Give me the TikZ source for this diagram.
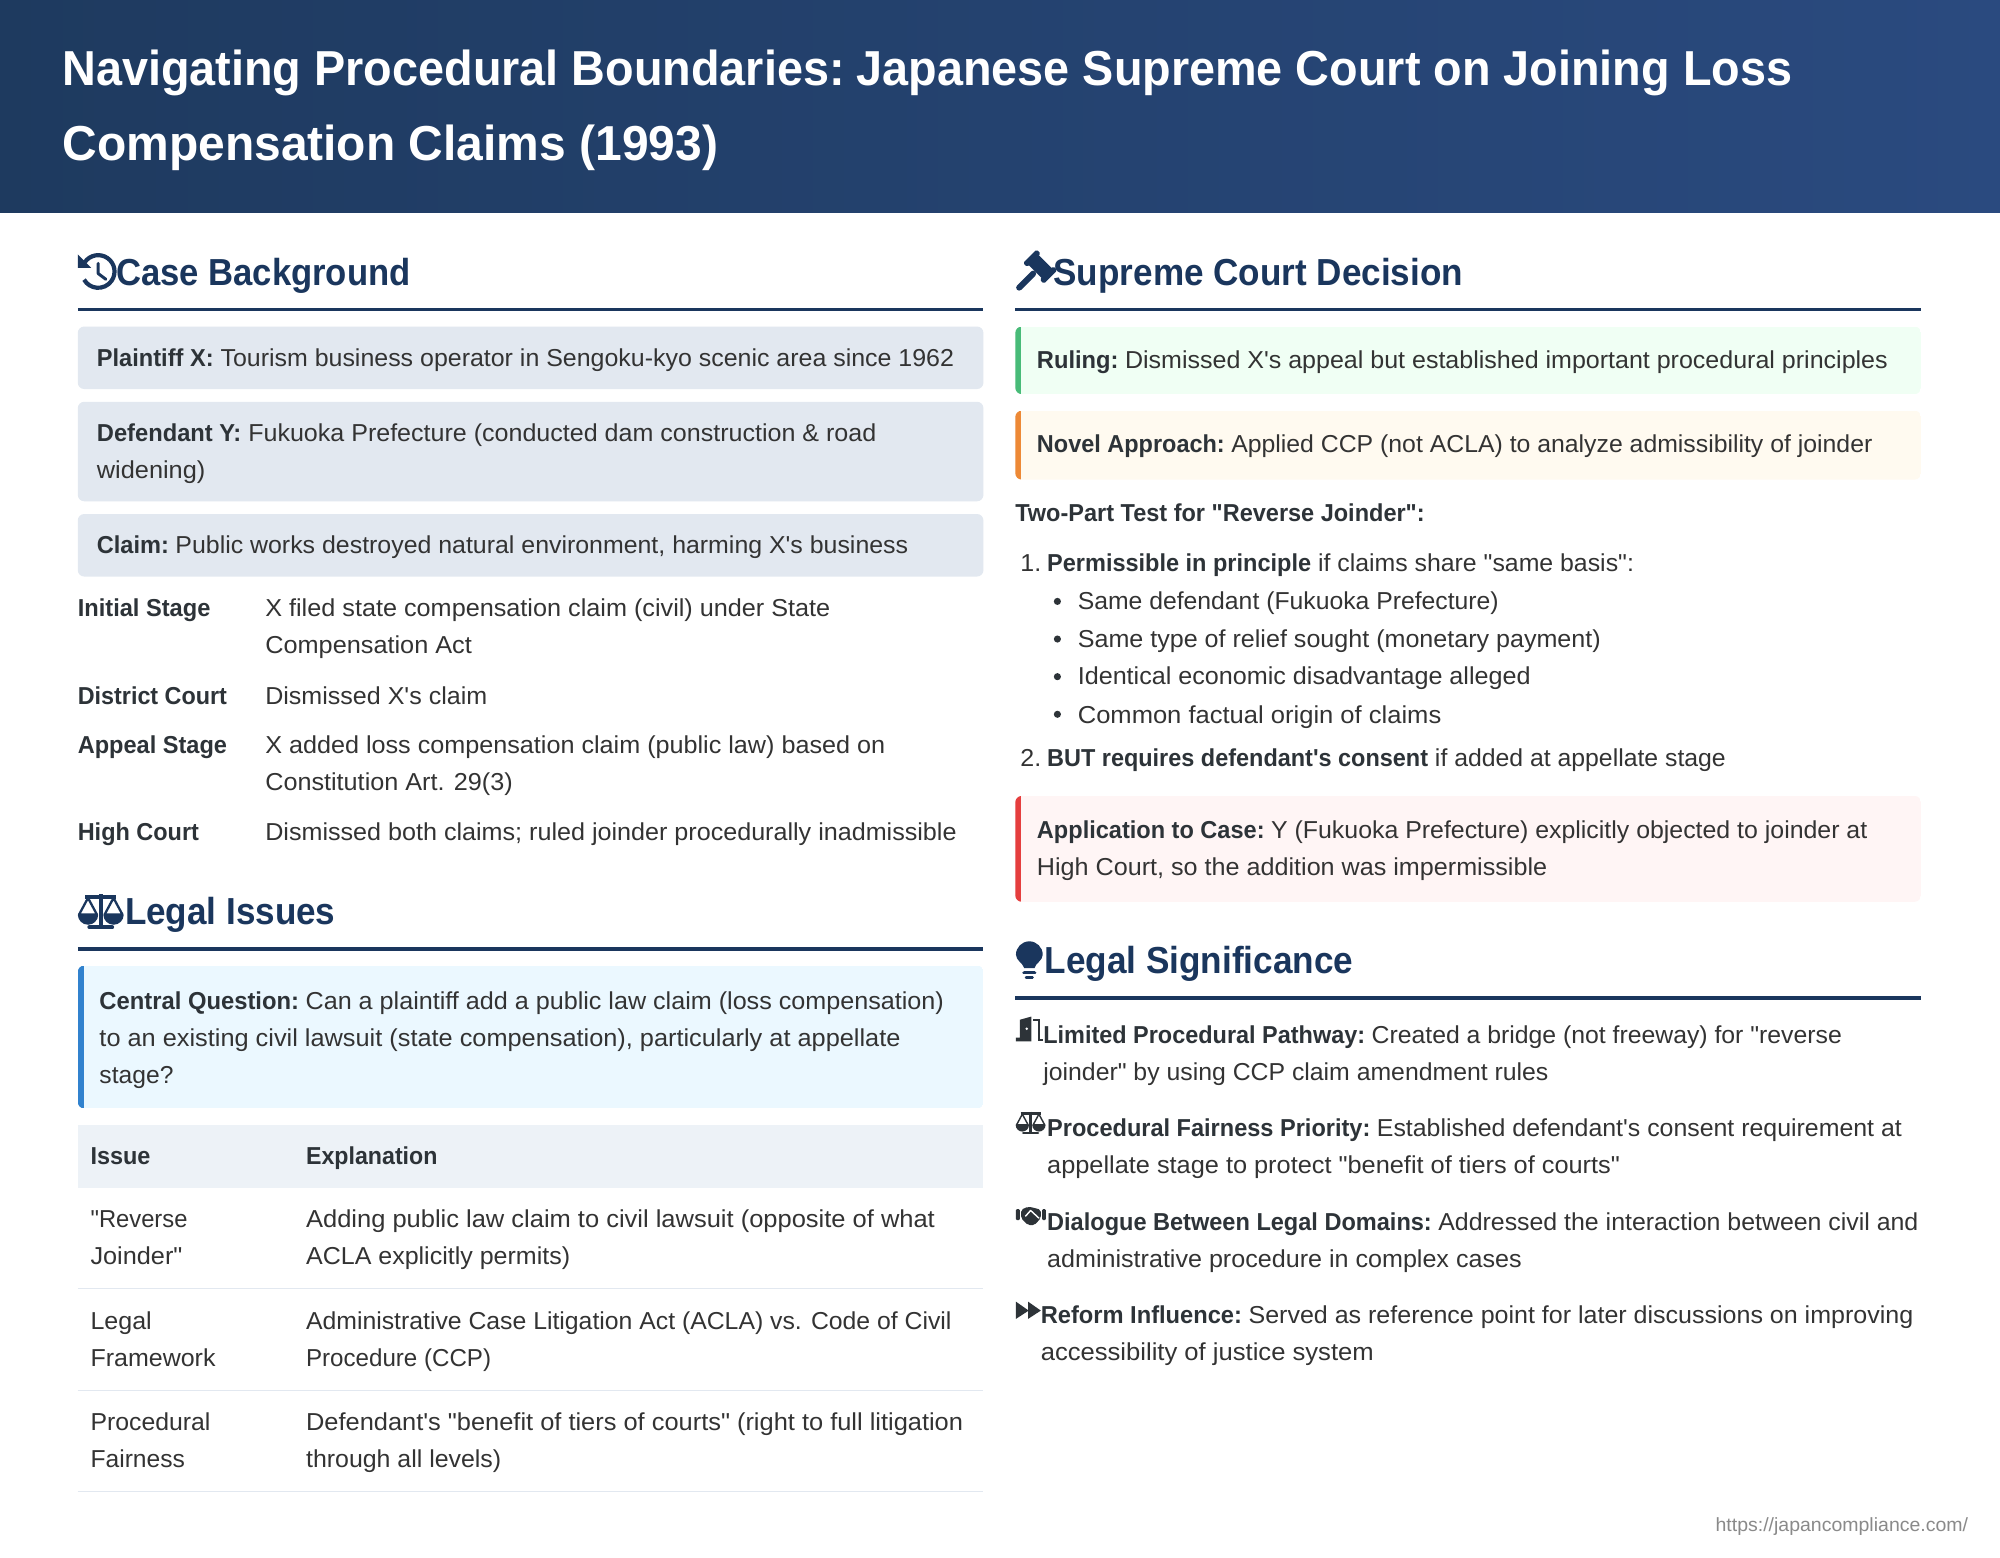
\documentclass[tikz,border=0pt]{standalone}
\usepackage{graphicx}
\usepackage{fontspec}
\setmainfont{Liberation Sans}[Ligatures=TeXOff,FakeStretch=1.02,BoldFeatures={FakeStretch=0.965}]
\definecolor{navy}{HTML}{1A365D}
\definecolor{headL}{HTML}{1E3A5F}
\definecolor{headR}{HTML}{2A4A7F}
\definecolor{ink}{HTML}{333333}
\definecolor{inkb}{HTML}{2D3338}
\definecolor{boxgray}{HTML}{E2E8F0}
\definecolor{thgray}{HTML}{EDF2F7}
\definecolor{bluef}{HTML}{EBF8FF}\definecolor{blueb}{HTML}{3182CE}
\definecolor{greenf}{HTML}{F0FFF4}\definecolor{greenb}{HTML}{48BB78}
\definecolor{orangef}{HTML}{FFFAF0}\definecolor{orangeb}{HTML}{ED8936}
\definecolor{redf}{HTML}{FFF5F5}\definecolor{redb}{HTML}{E53E3E}
\definecolor{foot}{HTML}{8A8A8A}
\newcommand{\szf}[1]{\fontsize{\fpeval{#1*0.63776}pt}{\fpeval{#1*0.8}pt}\selectfont}
\tikzset{
  x=0.63776pt,y=-0.63776pt,
  txt/.style={anchor=base west,inner sep=0pt,outer sep=0pt},
  body/.style={txt,text=ink,font=\szf{19.2}},
  title/.style={txt,text=white,font=\szf{38.5}\bfseries},
  head/.style={txt,text=navy,font=\szf{29.5}\bfseries},
  footer/.style={txt,text=foot,font=\szf{15}},
  rule/.style={draw=navy,line width=1.6pt},
  trule/.style={draw=boxgray,line width=0.65pt},
  card/.style={rounded corners=3.2pt},
  icn/.style={fill=navy,draw=none},
  icl/.style={draw=navy,line width=2.1pt,fill=none},
  ics/.style={fill=inkb,draw=none},
  icm/.style={draw=inkb,line width=1.2pt,fill=none},
}
\newcommand{\bb}[1]{{\bfseries\color{inkb}#1}}
% bold lead-in that ends in a colon: the colon's wide side bearing is closed up
\newcommand{\bbc}[1]{{\bfseries\color{inkb}#1\kern-0.11em}}
% \tline[style]{name}{x start}{x end}{baseline}{text}: one printed line, fitted to its measured width
\newcommand{\tline}[6][body]{\node[#1] (#2) at (#3,#5) {\resizebox{\fpeval{(#4-#3)*0.63776}pt}{\height}{#6}};}
\newcommand{\callout}[6]{% x1 y1 x2 y2 fill bar
  \begin{scope}
    \clip[card] (#1,#2) rectangle (#3,#4);
    \fill[#5] (#1,#2) rectangle (#3,#4);
    \fill[#6] (#1,#2) rectangle (#1+4.5,#4);
  \end{scope}}
\newcommand{\scalesicon}[6]{%
  \begin{scope}[shift={(#1,#2)},scale=#3]
    \draw[#5,line width=#6] (-12,-11) -- (12,-11);
    \draw[#5,line width=#6] (0,-13) -- (0,12);
    \draw[#5,line width=#6,line cap=round] (-9,13) -- (9,13);
    \draw[#5,line width=#6*0.6,line join=round] (-17,3) -- (-10,-10) -- (-3,3) -- cycle;
    \draw[#5,line width=#6*0.6,line join=round] (17,3) -- (10,-10) -- (3,3) -- cycle;
    \fill[#4] (-18,3) -- (-2,3) arc[start angle=0,end angle=180,radius=8] -- cycle;
    \fill[#4] (2,3) -- (18,3) arc[start angle=0,end angle=180,radius=8] -- cycle;
  \end{scope}}
\begin{document}
\begin{tikzpicture}
\useasboundingbox (0,0) rectangle (1568,1220.7);
\fill[white] (0,0) rectangle (1568,1220.7);
\shade[left color=headL,right color=headR] (0,0) rectangle (1568,166.5);
\tline[title]{t1}{49}{1405}{67}{Navigating Procedural Boundaries:\kern-0.11em{} Japanese Supreme Court on Joining Loss}
\tline[title]{t2}{49}{563}{126}{Compensation Claims (1993)}

% ---------- Case Background
\draw[icl,line cap=butt] (66.5,205.5) arc[start angle=-145,end angle=150,radius=12.8];
\fill[icn] (61,199.5) -- (61,210) -- (71.5,210) -- cycle;
\draw[navy,line width=1.5pt,line cap=round,line join=round] (77,206.5) -- (77,214.5) -- (83,219);
\tline[head]{h1}{91}{322}{223.5}{Case Background}
\draw[rule] (61,242.5) -- (771,242.5);

\fill[boxgray,card] (61,256) rectangle (771,305);
\tline{b1}{76}{748}{287}{\bb{Plaintiff X:} Tourism business operator in Sengoku-kyo scenic area since 1962}
\fill[boxgray,card] (61,315) rectangle (771,393);
\tline{b2a}{76}{687}{346}{\bb{Defendant Y:} Fukuoka Prefecture (conducted dam construction \& road}
\tline{b2b}{76}{161}{375}{widening)}
\fill[boxgray,card] (61,403) rectangle (771,452);
\tline{b3}{76}{712}{434}{\bbc{Claim:} Public works destroyed natural environment, harming X's business}

\tline{s1}{61}{165}{483}{\bb{Initial Stage}}
\tline{v1a}{208}{651}{483}{X filed state compensation claim (civil) under State}
\tline{v1b}{208}{370}{512}{Compensation Act}
\tline{s2}{61}{178}{552}{\bb{District Court}}
\tline{v2}{208}{382}{552}{Dismissed X's claim}
\tline{s3}{61}{178}{591}{\bb{Appeal Stage}}
\tline{v3a}{208}{694}{591}{X added loss compensation claim (public law) based on}
\tline{v3b}{208}{402}{620}{Constitution Art. 29(3)}
\tline{s4}{61}{156}{659}{\bb{High Court}}
\tline{v4}{208}{750}{659}{Dismissed both claims; ruled joinder procedurally inadmissible}

% ---------- Legal Issues
\scalesicon{79}{714}{1}{navy}{navy}{1.9pt}
\tline[head]{h2}{98}{263}{724.5}{Legal Issues}
\draw[rule] (61,744) -- (771,744);
\callout{61}{757}{771}{869}{bluef}{blueb}
\tline{q1}{78}{740}{791.5}{\bbc{Central Question:} Can a plaintiff add a public law claim (loss compensation)}
\tline{q2}{78}{706}{820.5}{to an existing civil lawsuit (state compensation), particularly at appellate}
\tline{q3}{78}{136}{849.5}{stage?}

\fill[thgray] (61,882) rectangle (771,931);
\tline{th1}{71}{118}{913}{\bb{Issue}}
\tline{th2}{240}{343}{913}{\bb{Explanation}}
\tline{r1a}{71}{147}{962}{"Reverse}
\tline{r1b}{71}{143}{991}{Joinder"}
\tline{e1a}{240}{733}{962}{Adding public law claim to civil lawsuit (opposite of what}
\tline{e1b}{240}{447}{991}{ACLA explicitly permits)}
\draw[trule] (61,1010) -- (771,1010);
\tline{r2a}{71}{119}{1042}{Legal}
\tline{r2b}{71}{169}{1071}{Framework}
\tline{e2a}{240}{746}{1042}{Administrative Case Litigation Act (ACLA) vs. Code of Civil}
\tline{e2b}{240}{385}{1071}{Procedure (CCP)}
\draw[trule] (61,1090) -- (771,1090);
\tline{r3a}{71}{165}{1121.5}{Procedural}
\tline{r3b}{71}{145}{1150.5}{Fairness}
\tline{e3a}{240}{755}{1121.5}{Defendant's "benefit of tiers of courts" (right to full litigation}
\tline{e3b}{240}{393}{1150.5}{through all levels)}
\draw[trule] (61,1169.5) -- (771,1169.5);

% ---------- Supreme Court Decision
\begin{scope}[rotate around={-45:(815.5,209)}]
  \fill[icn,rounded corners=1pt] (807,203.5) rectangle (824,214.5);
  \fill[icn,rounded corners=0.8pt] (804,201.5) rectangle (808.5,216.5);
  \fill[icn,rounded corners=0.8pt] (822.5,201.5) rectangle (827,216.5);
\end{scope}
\draw[navy,line width=3pt,line cap=round] (799,225.5) -- (810,214.5);
\tline[head]{h3}{826}{1147}{223.5}{Supreme Court Decision}
\draw[rule] (796,242.5) -- (1506,242.5);
\callout{796}{256}{1506}{309}{greenf}{greenb}
\tline{d1}{813}{1480}{289}{\bbc{Ruling:} Dismissed X's appeal but established important procedural principles}
\callout{796}{322}{1506}{376}{orangef}{orangeb}
\tline{d2}{813}{1468}{355}{\bbc{Novel Approach:} Applied CCP (not ACLA) to analyze admissibility of joinder}
\tline{tp}{796}{1117}{409}{\bb{Two-Part Test for "Reverse Joinder":}}
\node[body] (n1) at (800,448) {1.};
\tline{l1}{821}{1281}{448}{\bb{Permissible in principle} if claims share "same basis":}
\fill[inkb] (829,471.5) circle (2.8);
\fill[inkb] (829,501) circle (2.8);
\fill[inkb] (829,530.5) circle (2.8);
\fill[inkb] (829,560) circle (2.8);
\tline{u1}{845}{1175}{478}{Same defendant (Fukuoka Prefecture)}
\tline{u2}{845}{1255}{508}{Same type of relief sought (monetary payment)}
\tline{u3}{845}{1200}{537}{Identical economic disadvantage alleged}
\tline{u4}{845}{1130}{567}{Common factual origin of claims}
\node[body] (n2) at (800,601) {2.};
\tline{l2}{821}{1353}{601}{\bb{BUT requires defendant's consent} if added at appellate stage}
\callout{796}{624}{1506}{707}{redf}{redb}
\tline{a1}{813}{1464}{657}{\bbc{Application to Case:} Y (Fukuoka Prefecture) explicitly objected to joinder at}
\tline{a2}{813}{1213}{686}{High Court, so the addition was impermissible}

% ---------- Legal Significance
\fill[icn] (803,759) .. controls (802,755) and (796.5,753) .. (796.5,748.5)
  arc[start angle=180,end angle=360,radius=10.5]
  .. controls (817.5,753) and (812,755) .. (811,759) -- cycle;
\draw[navy,line width=1.9pt,line cap=round] (803,762.5) -- (811,762.5);
\draw[navy,line width=1.4pt,line cap=round] (804.5,766.5) -- (809.5,766.5);
\tline[head]{h4}{819}{1061}{763.5}{Legal Significance}
\draw[rule] (796,782.5) -- (1506,782.5);

% door
\fill[ics] (799.5,799.5) -- (808.5,797) -- (808.5,816.5) -- (796.5,816.5) -- (796.5,813.5) -- (799.5,813.5) -- cycle;
\fill[white] (805,806.5) circle (1.1);
\draw[icm] (810,799.5) -- (814.5,799.5) -- (814.5,815.5) -- (818,815.5);
\tline{g1a}{818}{1444}{818}{\bbc{Limited Procedural Pathway:} Created a bridge (not freeway) for "reverse}
\tline{g1b}{818}{1214}{847}{joinder" by using CCP claim amendment rules}
% scales
\scalesicon{808}{880}{0.65}{inkb}{inkb}{1.2pt}
\tline{g2a}{821}{1491}{891}{\bbc{Procedural Fairness Priority:} Established defendant's consent requirement at}
\tline{g2b}{821}{1270}{920}{appellate stage to protect "benefit of tiers of courts"}
% handshake
\fill[ics,rounded corners=0.5pt] (796.5,948) rectangle (799.5,956.5);
\fill[ics,rounded corners=0.5pt] (817,948) rectangle (820,956.5);
\fill[ics,rounded corners=1pt] (800.5,948.5) -- (806,946) -- (811,947) -- (816,948.5) -- (816,955) -- (811,960.5) -- (806,960.5) -- (800.5,955) -- cycle;
\draw[white,line width=0.7pt,line cap=round,line join=round] (804,953.5) -- (808,949) -- (814.5,955);
\tline{g3a}{821}{1504}{965}{\bbc{Dialogue Between Legal Domains:} Addressed the interaction between civil and}
\tline{g3b}{821}{1193}{994}{administrative procedure in complex cases}
% forward
\fill[ics] (796.5,1020.5) -- (806.5,1027.5) -- (796.5,1034) -- cycle;
\fill[ics] (806,1020.5) -- (816,1027.5) -- (806,1034) -- cycle;
\tline{g4a}{816}{1500}{1038}{\bbc{Reform Influence:} Served as reference point for later discussions on improving}
\tline{g4b}{816}{1077}{1067}{accessibility of justice system}

\tline[footer]{ft}{1345}{1543}{1201}{https://japancompliance.com/}
\end{tikzpicture}
\end{document}
